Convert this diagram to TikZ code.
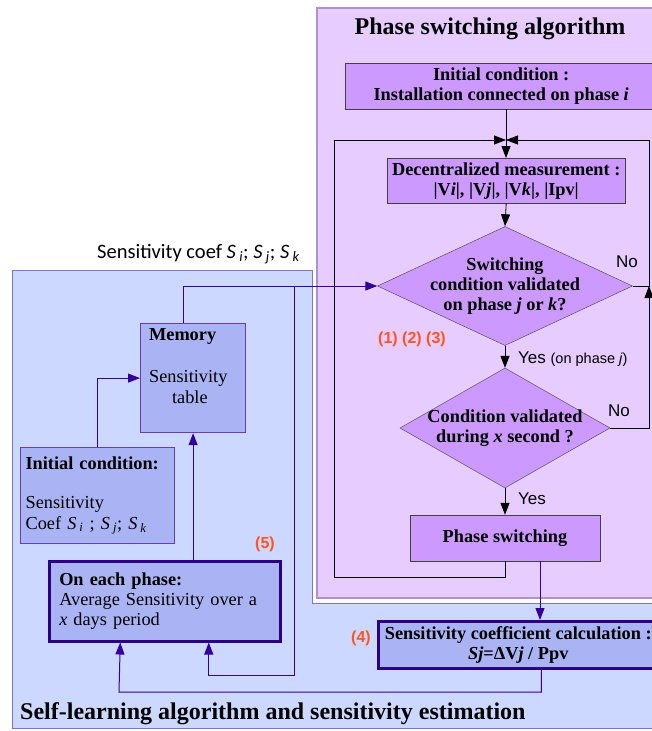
\documentclass[tikz,border=0pt]{standalone}
\usepackage{fontspec}
\setmainfont{Liberation Serif}
\setsansfont{Liberation Sans}
\newfontfamily\calibri{Carlito}
\usetikzlibrary{arrows.meta,shapes.geometric,positioning}

\definecolor{bluepanel}{RGB}{204,216,255}
\definecolor{blueedge}{RGB}{125,115,215}
\definecolor{purplepanel}{RGB}{231,204,255}
\definecolor{purpleedge}{RGB}{175,145,210}
\definecolor{purplebox}{RGB}{204,153,255}
\definecolor{bluebox}{RGB}{170,180,245}
\definecolor{linkblue}{RGB}{51,0,153}
\definecolor{stepred}{RGB}{255,85,30}

\newcommand{\boxsize}{\fontsize{18.3}{20}\selectfont}
\newcommand{\titlesize}{\fontsize{24}{28}\selectfont}
\newcommand{\coefsub}[1]{\textit{S}\,\textsubscript{\textit{#1}}}

\begin{document}
\begin{tikzpicture}[x=1pt, y=-1pt,
  pbox/.style={draw=black!75, fill=purplebox, align=center, font=\boxsize\bfseries, inner sep=0pt},
  test/.style={diamond, draw=black!75, fill=purplebox, inner sep=0pt},
  testtext/.style={align=center, font=\boxsize\bfseries, inner sep=0pt},
  bbox/.style={draw=linkblue!75, fill=bluebox, line width=1.2pt, align=left, font=\boxsize, inner sep=0pt},
  strongbox/.style={draw=linkblue!85!black, fill=bluebox, line width=2.5pt, font=\boxsize, inner sep=0pt},
  title/.style={font=\titlesize\bfseries, inner sep=0pt},
  flow/.style={-{Triangle[length=12pt,width=9pt]}, line width=0.8pt},
  link/.style={-{Triangle[length=12pt,width=9pt]}, linkblue, line width=1pt},
  note/.style={font=\sffamily\fontsize{17}{20}\selectfont, inner sep=0pt},
  stepnum/.style={font=\sffamily\bfseries\fontsize{16}{18}\selectfont, text=stepred, inner sep=0pt}
]
\useasboundingbox (0,0) rectangle (651,731);

% panels
\fill[bluepanel] (12,270) -- (312,270) -- (312,603) -- (660,603) -- (660,728) -- (12,728) -- cycle;
\draw[blueedge, line width=1pt] (660,728) -- (12,728) -- (12,270) -- (312,270) -- (312,603) -- (660,603);
\fill[purplepanel] (317,8) rectangle (660,598);
\draw[purpleedge, line width=2pt] (660,8) -- (317,8) -- (317,598) -- (660,598);

\node[title, anchor=base] (ptitle) at (490,34) {Phase switching algorithm};
\node[title, anchor=base west] (btitle) at (20,719) {Self-learning algorithm and sensitivity estimation};

% phase switching flow
\node[pbox, minimum width=312pt, minimum height=46pt, anchor=north west] (init) at (345,63) {Initial condition :\\Installation connected on phase \textit{i}};
\node[pbox, minimum width=238pt, minimum height=45pt, anchor=north west] (meas) at (387,158) {Decentralized measurement :\\|V\textit{i}|, |V\textit{j}|, |V\textit{k}|, |Ipv|};
\node[test, minimum width=255pt, minimum height=119pt,
  label={[testtext]center:Switching\\condition validated\\on phase \textit{j} or \textit{k}?}] (d1) at (505,286) {};
\node[test, minimum width=210pt, minimum height=120pt,
  label={[testtext]center:Condition validated\\during \textit{x} second ?}] (d2) at (505,428) {};
\node[pbox, minimum width=190pt, minimum height=46pt] (switch) at (505,538) {Phase switching};
\node[strongbox, align=center, font=\boxsize\bfseries, minimum width=280pt, minimum height=47pt, anchor=north west] (calc) at (377,620) {Sensitivity coefficient calculation :\\\textit{Sj}=ΔV\textit{j} / Ppv};

% self-learning side
\node[bbox, text width=88pt, minimum width=105pt, minimum height=109pt, anchor=north west] (mem) at (140,323) {\textbf{Memory}\\[22pt]Sensitivity\\[1pt]\hspace*{23pt}table\\[4pt]\mbox{}};
\node[bbox, text width=144pt, minimum width=154pt, minimum height=96pt, anchor=north west] (ini) at (20,447) {\textbf{Initial condition:}\\[19pt]Sensitivity\\[1pt]Coef \coefsub{i} ; \coefsub{j}; \coefsub{k}};
\node[strongbox, align=left, text width=211pt, minimum width=231pt, minimum height=80pt, anchor=north west] (avg) at (48,560) {\textbf{On each phase:}\\Average Sensitivity over a\\\textit{x} days period};

% labels
\node[note, anchor=base west] (yes1) at (518,363) {Yes {\fontsize{14.5}{16}\selectfont(on phase \textit{j})}};
\node[note, anchor=base west] (yes2) at (518,504) {Yes};
\node[note, anchor=base west] (no1) at (616,267) {No};
\node[note, anchor=base west] (no2) at (608,416) {No};
\node[stepnum, anchor=base west] (s123) at (378,343) {(1) (2) (3)};
\node[stepnum, anchor=base west] (s4) at (351,642) {(4)};
\node[stepnum, anchor=base west] (s5) at (255,548) {(5)};
\node[font=\calibri\fontsize{20.5}{22}\selectfont, inner sep=0pt, anchor=base west] (coef) at (97,258) {Sensitivity coef \coefsub{i}; \coefsub{j}; \coefsub{k}};

% black connectors
\coordinate (join) at (506,140);
\coordinate (loopsw) at (334,577);
\coordinate (loope) at (649,286);
\draw[flow] (join |- init.south) -- (join |- meas.north);
\draw[flow] (meas.south) -- (d1.north);
\draw[flow] (d1.south) -- (d2.north);
\draw[flow] (d2.south) -- (switch.north);
\draw[flow] (switch.south) |- (loopsw) |- (join);
\draw[flow] (d1.east) -- (loope) |- (join);
\draw[flow] (d2.east) -| (loope);

% blue connectors
\coordinate (fork) at (294,286);
\coordinate (forkend) at (294,675);
\coordinate (calcend) at (119,692);
\draw[link] ([xshift=-10pt]mem.north) |- (d1.west);
\draw[link] (fork) -- (forkend) -| ([xshift=44pt]avg.south);
\draw[link] ([xshift=23pt]calc.south) |- (calcend) -- ([xshift=-44.5pt]avg.south);
\draw[link] ([xshift=35pt]switch.south) -- ([xshift=35pt]switch.south |- calc.north);
\draw[link] (ini.north) |- (mem.west);
\draw[link] (avg.north -| mem.south) -- (mem.south);
\end{tikzpicture}
\end{document}
